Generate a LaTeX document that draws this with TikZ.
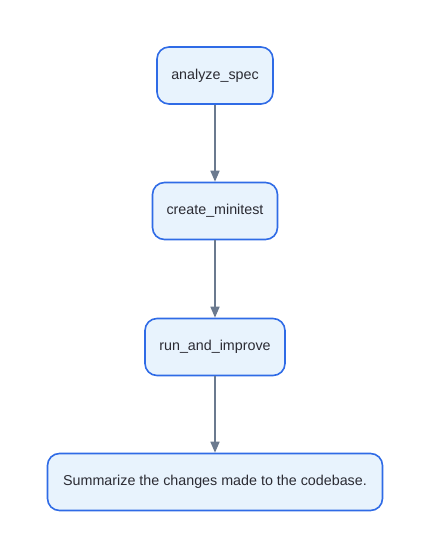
\documentclass[tikz,border=0pt]{standalone}
\usepackage{fontspec}
\setmainfont{Liberation Sans}
\usetikzlibrary{arrows.meta}
\definecolor{boxfill}{HTML}{E8F3FD}
\definecolor{boxline}{HTML}{2F6BE6}
\definecolor{arrowc}{HTML}{6B7A8F}
\definecolor{txt}{HTML}{2B2B33}
\begin{document}
\begin{tikzpicture}[x=1pt,y=-1pt,
  stepbox/.style={draw=boxline, fill=boxfill, line width=1.6pt, rounded corners=12pt,
    minimum height=57pt, inner xsep=0pt, text=txt, font=\fontsize{14.3pt}{17pt}\selectfont},
  flow/.style={draw=arrowc, line width=1.5pt, -{Triangle[length=11pt,width=9pt]}}]
\useasboundingbox (0,0) rectangle (430,558);
\node[stepbox, minimum width=116pt] (a) at (215,75.5) {analyze\_spec};
\node[stepbox, minimum width=125pt] (b) at (215,211) {create\_minitest};
\node[stepbox, minimum width=140pt] (c) at (215,347) {run\_and\_improve};
\node[stepbox, minimum width=335pt] (d) at (215,482) {Summarize the changes made to the codebase.};
\draw[flow] (a) -- (b);
\draw[flow] (b) -- (c);
\draw[flow] (c) -- (d);
\end{tikzpicture}
\end{document}
